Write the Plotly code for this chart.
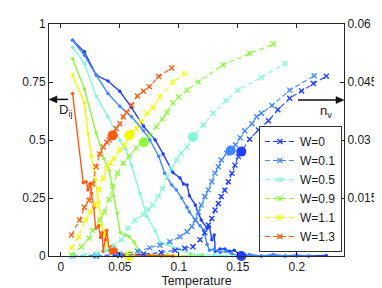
import plotly.graph_objects as go

# ---------------- data ----------------
W_labels = ["W=0", "W=0.1", "W=0.5", "W=0.9", "W=1.1", "W=1.3"]
colors = ["#2040ff", "#4088ff", "#80f8d8", "#8cf83c", "#f2fa00", "#ff5a10"]

# D_ij (left axis)
T_D_W0 = [0.01, 0.02, 0.03, 0.04, 0.05, 0.06, 0.07, 0.08, 0.0867, 0.095, 0.101, 0.104, 0.107, 0.109,
          0.114, 0.119, 0.124, 0.126, 0.128, 0.13, 0.131, 0.135, 0.139, 0.143, 0.147, 0.153, 0.16,
          0.17, 0.18, 0.19, 0.2, 0.21, 0.225]
D_W0 = [0.93, 0.88, 0.78, 0.754, 0.71, 0.64, 0.56, 0.50, 0.44, 0.36, 0.336, 0.31, 0.306, 0.26,
        0.22, 0.155, 0.12, 0.126, 0.07, 0.09, 0.02, 0.03, 0.03, 0.02, 0.025, 0.0, 0.005,
        0.0, 0.005, 0.0, 0.003, 0.0, 0.002]

T_D_W01 = [0.01, 0.02, 0.03, 0.04, 0.05, 0.06, 0.07, 0.0755, 0.083, 0.088, 0.094, 0.098, 0.1024,
           0.107, 0.109, 0.114, 0.118, 0.121, 0.124, 0.126, 0.13, 0.135, 0.14, 0.145, 0.15, 0.16,
           0.17, 0.18, 0.19, 0.2, 0.21]
D_W01 = [0.93, 0.865, 0.78, 0.70, 0.645, 0.60, 0.54, 0.50, 0.43, 0.357, 0.306, 0.284, 0.25,
         0.21, 0.19, 0.155, 0.13, 0.112, 0.05, 0.025, 0.03, 0.015, 0.02, 0.01, 0.0, 0.005,
         0.0, 0.005, 0.0, 0.0, 0.0]

T_D_W05 = [0.01, 0.02, 0.03, 0.04, 0.05, 0.055, 0.06, 0.067, 0.073, 0.08, 0.084, 0.09, 0.1, 0.11,
           0.12, 0.13, 0.14, 0.15]
D_W05 = [0.90, 0.83, 0.69, 0.60, 0.50, 0.46, 0.39, 0.27, 0.17, 0.11, 0.06, 0.05, 0.03, 0.01,
         0.005, 0.005, 0.0, 0.0]

T_D_W09 = [0.01, 0.02, 0.03, 0.0365, 0.041, 0.045, 0.048, 0.0505, 0.055, 0.058, 0.062, 0.066,
           0.07, 0.08, 0.09, 0.1, 0.11, 0.12]
D_W09 = [0.85, 0.72, 0.53, 0.42, 0.37, 0.26, 0.185, 0.10, 0.09, 0.083, 0.06, 0.025,
         0.01, 0.005, 0.005, 0.0, 0.0, 0.0]

T_D_W11 = [0.01, 0.02, 0.023, 0.026, 0.0294, 0.032, 0.0345, 0.0365, 0.038, 0.040, 0.042, 0.045,
           0.05, 0.055, 0.06, 0.07, 0.08, 0.09, 0.1]
D_W11 = [0.78, 0.66, 0.53, 0.43, 0.33, 0.234, 0.134, 0.09, 0.11, 0.025, 0.02, 0.03,
         0.01, 0.005, 0.0, 0.005, 0.0, 0.0, 0.0]

T_D_W13 = [0.01, 0.019, 0.0215, 0.023, 0.0246, 0.026, 0.028, 0.0295, 0.032, 0.0337, 0.035, 0.036,
           0.038, 0.039, 0.041, 0.043, 0.045, 0.048, 0.055, 0.065, 0.075, 0.085, 0.095]
D_W13 = [0.70, 0.316, 0.32, 0.285, 0.31, 0.27, 0.21, 0.12, 0.13, 0.08, 0.10, 0.02,
         0.07, 0.11, 0.025, 0.04, 0.02, 0.01, 0.005, 0.003, 0.002, 0.0, 0.0]

# n_v (right axis)
T_N_W0 = [0.01, 0.03, 0.05, 0.07, 0.085, 0.0967, 0.105, 0.112, 0.118, 0.122, 0.125, 0.128, 0.1307,
          0.1335, 0.136, 0.139, 0.142, 0.145, 0.1476, 0.1505, 0.153, 0.16, 0.1675, 0.176, 0.184,
          0.194, 0.204, 0.214, 0.225]
NV_W0 = [0.0, 0.0, 0.0001, 0.0005, 0.0009, 0.0015, 0.0020, 0.0024, 0.0042, 0.0060, 0.0080, 0.0097,
         0.0119, 0.0136, 0.0154, 0.0170, 0.0192, 0.0214, 0.0235, 0.0257, 0.0270, 0.0302, 0.0326,
         0.0350, 0.0378, 0.0408, 0.0427, 0.0446, 0.0465]

T_N_W01 = [0.01, 0.03, 0.05, 0.065, 0.0755, 0.084, 0.0925, 0.101, 0.107, 0.111, 0.114, 0.1165,
           0.119, 0.122, 0.125, 0.128, 0.1307, 0.1335, 0.136, 0.1406, 0.144, 0.148, 0.152, 0.156,
           0.162, 0.166, 0.17, 0.179, 0.194, 0.2147]
NV_W01 = [0.0, 0.0001, 0.0005, 0.0012, 0.0021, 0.0028, 0.0037, 0.0050, 0.0063, 0.0076, 0.0093,
          0.0114, 0.0132, 0.0154, 0.0171, 0.0192, 0.0214, 0.0231, 0.0248, 0.0266, 0.0273, 0.0288,
          0.0306, 0.0324, 0.0342, 0.0360, 0.0369, 0.0389, 0.0429, 0.0466]

T_N_W05 = [0.01, 0.02, 0.03, 0.039, 0.045, 0.0515, 0.057, 0.063, 0.07, 0.074, 0.078, 0.0826, 0.086,
           0.09, 0.094, 0.098, 0.102, 0.107, 0.112, 0.121, 0.129, 0.14, 0.15, 0.17, 0.19]
NV_W05 = [0.0, 0.0001, 0.0006, 0.0015, 0.0027, 0.0042, 0.0072, 0.0093, 0.0108, 0.0120, 0.0132,
          0.0154, 0.0174, 0.0204, 0.0227, 0.0248, 0.0266, 0.0282, 0.0308, 0.0339, 0.0369, 0.0402,
          0.0429, 0.0462, 0.0498]

T_N_W09 = [0.009, 0.0175, 0.024, 0.027, 0.033, 0.037, 0.041, 0.044, 0.048, 0.053, 0.058, 0.064,
           0.0704, 0.0755, 0.081, 0.086, 0.09, 0.095, 0.1, 0.107, 0.1165, 0.1375, 0.16, 0.18]
NV_W09 = [0.0003, 0.0024, 0.0046, 0.0066, 0.0093, 0.0114, 0.0147, 0.0180, 0.0214, 0.0240, 0.0258,
          0.0279, 0.0294, 0.0312, 0.0334, 0.0354, 0.0372, 0.0396, 0.0411, 0.0429, 0.0450, 0.0494,
          0.0524, 0.0548]

T_N_W11 = [0.009, 0.015, 0.021, 0.025, 0.029, 0.0325, 0.036, 0.039, 0.042, 0.045, 0.05, 0.054,
           0.058, 0.061, 0.064, 0.068, 0.073, 0.078, 0.084, 0.095, 0.105]
NV_W11 = [0.0021, 0.0050, 0.0093, 0.0114, 0.0132, 0.0171, 0.0201, 0.0228, 0.0240, 0.0252, 0.0274,
          0.0288, 0.0312, 0.0321, 0.0330, 0.0348, 0.0369, 0.0384, 0.0412, 0.0450, 0.0471]

T_N_W13 = [0.009, 0.016, 0.02, 0.024, 0.027, 0.030, 0.033, 0.036, 0.039, 0.041, 0.044, 0.047, 0.05,
           0.053, 0.056, 0.06, 0.065, 0.07, 0.075, 0.083, 0.094]
NV_W13 = [0.0054, 0.0093, 0.0126, 0.0144, 0.0186, 0.0231, 0.0264, 0.0282, 0.0294, 0.0300, 0.0312,
          0.0330, 0.0342, 0.0360, 0.0372, 0.0390, 0.0414, 0.0426, 0.0438, 0.0464, 0.0486]

# transition temperatures (big circles)
Tc = [0.153, 0.144, 0.112, 0.0704, 0.058, 0.044]
NVc = [0.0270, 0.0273, 0.0308, 0.0294, 0.0312, 0.0312]
Dc_idx = [0, 4, 5]
Dc = [0.0, 0.0, 0.025]

# axis ticks
x_ticks = [0, 0.05, 0.1, 0.15, 0.2]
x_ticktext = ["0", "0.05", "0.1", "0.15", "0.2"]
yL_ticks = [0, 0.25, 0.5, 0.75, 1]
yL_ticktext = ["0", "0.25", "0.5", "0.75", "1"]
yR_ticks = [0.015, 0.03, 0.045, 0.06]
yR_ticktext = ["0.015", "0.03", "0.045", "0.06"]

D_T = [T_D_W0, T_D_W01, T_D_W05, T_D_W09, T_D_W11, T_D_W13]
D_V = [D_W0, D_W01, D_W05, D_W09, D_W11, D_W13]
N_T = [T_N_W0, T_N_W01, T_N_W05, T_N_W09, T_N_W11, T_N_W13]
N_V = [NV_W0, NV_W01, NV_W05, NV_W09, NV_W11, NV_W13]

FONT = "Liberation Sans, Arial, Helvetica, sans-serif"
INK = "#1a1a1a"

fig = go.Figure()

for i in range(6):
    fig.add_trace(go.Scatter(
        x=D_T[i], y=D_V[i], mode="lines+markers", yaxis="y", showlegend=False,
        line=dict(color=colors[i], width=1.4),
        marker=dict(symbol="circle", size=3.5, color=colors[i]),
        cliponaxis=False))

for i in range(6):
    fig.add_trace(go.Scatter(
        x=N_T[i], y=N_V[i], mode="lines+markers", yaxis="y2", name=W_labels[i],
        line=dict(color=colors[i], width=1.1, dash="5px,3px"),
        marker=dict(symbol="x-thin", size=5, color=colors[i],
                    line=dict(color=colors[i], width=1.4)),
        cliponaxis=False))

for i in range(6):
    fig.add_trace(go.Scatter(
        x=[Tc[i]], y=[NVc[i]], mode="markers", yaxis="y2", showlegend=False,
        marker=dict(symbol="circle", size=10, color=colors[i])))

for k, i in enumerate(Dc_idx):
    fig.add_trace(go.Scatter(
        x=[Tc[i]], y=[Dc[k]], mode="markers", yaxis="y", showlegend=False,
        marker=dict(symbol="circle", size=10, color=colors[i]), cliponaxis=False))

axis_common = dict(showgrid=False, zeroline=False, showline=True, linecolor="#262626",
                   linewidth=1, ticks="inside", ticklen=4, tickcolor="#262626",
                   automargin=False,
                   tickfont=dict(family=FONT, size=12, color=INK))

# arrows (layout decorations in paper units)
px_x = 1 / 295.0
px_y = 1 / 232.0
arrow_shapes = [
    dict(type="line", xref="paper", yref="paper", x0=19 * px_x, x1=6 * px_x,
         y0=0.675, y1=0.675, line=dict(color="#111111", width=1.5)),
    dict(type="path", xref="paper", yref="paper",
         path=f"M 0,0.675 L {8 * px_x},{0.675 + 3.5 * px_y} L {8 * px_x},{0.675 - 3.5 * px_y} Z",
         fillcolor="#111111", line=dict(color="#111111", width=0.5)),
    dict(type="line", xref="paper", yref="paper", x0=1 - 46 * px_x, x1=1 - 6 * px_x,
         y0=0.672, y1=0.672, line=dict(color="#111111", width=1.5)),
    dict(type="path", xref="paper", yref="paper",
         path=f"M 1,0.672 L {1 - 8 * px_x},{0.672 + 3.5 * px_y} L {1 - 8 * px_x},{0.672 - 3.5 * px_y} Z",
         fillcolor="#111111", line=dict(color="#111111", width=0.5)),
]

# the page body adds an 8px offset, so the figure is 8px smaller on each side
fig.update_layout(
    width=374, height=280,
    margin=dict(l=41, r=38, t=16, b=32, autoexpand=False),
    paper_bgcolor="white", plot_bgcolor="white",
    font=dict(family=FONT, size=12, color=INK),
    xaxis=dict(range=[-0.01, 0.24], tickvals=x_ticks, ticktext=x_ticktext, mirror="ticks",
               title=dict(text="Temperature", standoff=1,
                          font=dict(family=FONT, size=12.5, color=INK)),
               **axis_common),
    yaxis=dict(range=[0, 1], tickvals=yL_ticks, ticktext=yL_ticktext, mirror=True,
               **axis_common),
    yaxis2=dict(range=[0, 0.06], tickvals=yR_ticks, ticktext=yR_ticktext, overlaying="y",
                side="right", **axis_common),
    legend=dict(x=0.993, y=0.017, xanchor="right", yanchor="bottom", bgcolor="white",
                bordercolor="#333333", borderwidth=1, itemwidth=30, tracegroupgap=0,
                font=dict(family=FONT, size=12, color=INK)),
    showlegend=True,
    shapes=arrow_shapes,
)

fig.add_annotation(x=16 * px_x, y=(256 - 110) * px_y, xref="paper", yref="paper",
                   xanchor="center", yanchor="middle",
                   text="D<sub>ij</sub>", showarrow=False,
                   font=dict(family=FONT, size=13, color=INK))
fig.add_annotation(x=(326 - 49) * px_x, y=(256 - 111) * px_y, xref="paper", yref="paper",
                   xanchor="center", yanchor="middle",
                   text="n<sub>v</sub>", showarrow=False,
                   font=dict(family=FONT, size=13, color=INK))

fig.write_html("out.html")
